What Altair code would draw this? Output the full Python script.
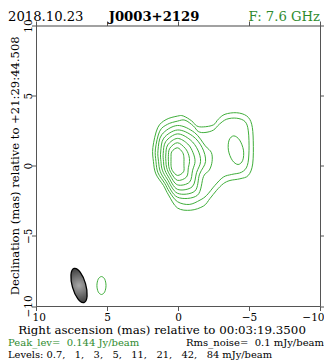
import altair as alt
import pandas as pd

# ---------------- header / footer values ----------------
obs_date = "2018.10.23"
source = "J0003+2129"
freq_ghz = 7.6
ra_ref = "00:03:19.3500"
dec_ref = "+21:29:44.508"
peak_jy = 0.144
rms_mjy = 0.1
levels = [0.7, 1, 3, 5, 11, 21, 42, 84]  # mJy/beam

ticks = [10, 5, 0, -5, -10]

# ---------------- contour vertices (relative RA, Dec in mas) ----------------
# level 0.7 (encloses both components)
L1_x = [0.04, 0.84, 1.43, 1.77, 1.73, 1.56, 1.02, 0.67, 0.04, -0.90, -1.80,
        -2.25, -2.72, -3.19, -3.66, -4.36, -4.95, -5.26, -5.30, -5.19, -4.84,
        -4.13, -3.31, -2.84, -2.49, -1.78, -1.32, -0.96, -0.37]
L1_y = [3.54, 3.29, 2.71, 1.30, 0.30, -0.58, -1.41, -2.08, -3.01, -3.17, -2.87,
        -2.34, -1.75, -1.28, -1.05, -0.93, -0.69, 0.13, 1.78, 2.96, 3.55,
        3.78, 3.67, 3.32, 2.91, 2.77, 2.84, 3.20, 3.55]
# level 1 (encloses both components)
L2_x = [0.04, 0.75, 1.29, 1.59, 1.55, 1.41, 0.93, 0.61, 0.04, -0.79, -1.55,
        -2.02, -2.60, -3.19, -3.78, -4.48, -4.88, -5.00, -4.95, -4.72, -4.13,
        -3.43, -2.91, -2.49, -1.90, -1.43, -1.08, -0.49]
L2_y = [3.18, 2.95, 2.46, 1.20, 0.30, -0.50, -1.26, -1.85, -2.56, -2.76, -2.45,
        -2.11, -1.40, -0.81, -0.62, -0.46, 0.01, 1.07, 2.49, 3.15, 3.39,
        3.32, 2.96, 2.54, 2.37, 2.44, 2.84, 3.25]
# level 3, main component
L3_x = [-2.40, -2.35, -1.92, -1.16, 0.04, 1.14, 1.41, 1.37, 1.25, 0.85, 0.04, -1.36, -1.80, -2.21]
L3_y = [0.30, 0.94, 1.42, 2.37, 2.87, 2.22, 1.09, 0.30, -0.41, -1.11, -2.24, -2.11, -0.76, -0.30]
# level 3, secondary component
S3_x = [-4.61, -4.34, -3.93, -3.60, -3.55, -3.82, -4.23, -4.56]
S3_y = [1.11, 1.83, 2.13, 1.83, 1.11, 0.39, 0.09, 0.39]
# level 5
L4_x = [-1.94, -1.70, -1.02, 0.04, 1.00, 1.22, 1.20, 1.10, 0.76, 0.04, -1.18, -1.52]
L4_y = [0.30, 1.30, 2.13, 2.55, 1.97, 0.98, 0.30, -0.32, -0.95, -1.96, -1.81, -0.60]
# level 11
L5_x = [-1.59, -1.40, -0.86, 0.04, 0.86, 1.04, 1.02, 0.95, 0.67, 0.04, -1.00, -1.31]
L5_y = [0.30, 1.12, 1.85, 2.27, 1.73, 0.88, 0.30, -0.23, -0.80, -1.68, -1.50, -0.48]
# level 21
L6_x = [-1.20, -1.06, -0.69, 0.04, 0.72, 0.86, 0.85, 0.80, 0.58, 0.04, -0.81, -1.03]
L6_y = [0.30, 0.93, 1.55, 1.95, 1.49, 0.77, 0.30, -0.14, -0.65, -1.36, -1.17, -0.32]
# level 42
L7_x = [-0.81, -0.76, -0.51, 0.04, 0.58, 0.68, 0.67, 0.65, 0.49, 0.04, -0.60, -0.73]
L7_y = [0.30, 0.75, 1.24, 1.64, 1.24, 0.67, 0.30, -0.06, -0.50, -1.04, -0.80, -0.14]
# level 84
L8_x = [-0.42, -0.42, -0.33, 0.035, 0.44, 0.49, 0.49, 0.49, 0.40, 0.035, -0.39, -0.42]
L8_y = [0.30, 0.56, 0.94, 1.28, 1.00, 0.56, 0.30, 0.03, -0.34, -0.69, -0.43, 0.03]
# isolated level 0.7 noise island
N1_x = [5.07, 5.16, 5.39, 5.62, 5.71, 5.62, 5.39, 5.16]
N1_y = [-8.54, -8.09, -7.90, -8.09, -8.54, -8.99, -9.18, -8.99]

# restoring beam
beam_x = [6.97]
beam_y = [-8.54]
beam_major = 2.5   # mas
beam_minor = 0.95  # mas
beam_pa = 16       # deg, east of north

# ---------------- build tables ----------------
contours = [("L1", L1_x, L1_y), ("L2", L2_x, L2_y), ("L3", L3_x, L3_y),
            ("S3", S3_x, S3_y), ("L4", L4_x, L4_y), ("L5", L5_x, L5_y),
            ("L6", L6_x, L6_y), ("L7", L7_x, L7_y), ("L8", L8_x, L8_y),
            ("N1", N1_x, N1_y)]
rows = []
for cid, xs_, ys_ in contours:
    for i, (xv, yv) in enumerate(zip(xs_, ys_)):
        rows.append({"cid": cid, "idx": i, "x": xv, "y": yv})
cdf = pd.DataFrame(rows)
bdf = pd.DataFrame({"x": beam_x, "y": beam_y})

GREEN_LINE = "#3fae3a"
GREEN_TEXT = "#2e8b2e"
AXIS_COL = "#555555"
FONT = "DejaVu Serif"

W, H = 284, 280.5
xscale = alt.Scale(domain=[10, -10], nice=False, zero=False)
yscale = alt.Scale(domain=[-10, 10], nice=False, zero=False)

common = dict(values=ticks, tickSize=4.5, tickColor=AXIS_COL, domainColor=AXIS_COL,
              tickWidth=1, domainWidth=1, grid=False, title=None,
              labelFont=FONT, labelFontSize=10.5, labelColor="black")

contour_layer = alt.Chart(cdf).mark_line(
    interpolate="cardinal-closed", color=GREEN_LINE, strokeWidth=1
).encode(
    x=alt.X("x:Q", scale=xscale,
            axis=alt.Axis(orient="bottom", labelBaseline="alphabetic", labelPadding=10,
                          labelFlush=True, labelFlushOffset=4, **common)),
    y=alt.Y("y:Q", scale=yscale,
            axis=alt.Axis(orient="left", labelAngle=270, labelAlign="center",
                          labelBaseline="alphabetic", labelPadding=0,
                          labelFlush=False, **common)),
    detail="cid:N",
    order="idx:Q",
)

frame_layer = alt.Chart(bdf).mark_point(opacity=0).encode(
    x=alt.X("x:Q", scale=xscale, axis=alt.Axis(orient="top", labels=False, **common)),
    y=alt.Y("y:Q", scale=yscale, axis=alt.Axis(orient="right", labels=False, **common)),
)

# beam ellipse as a custom symbol
k = beam_minor / beam_major
c = 0.5523 * k
beam_path = (f"M0,-1C{c:.3f},-1 {k:.3f},-0.552 {k:.3f},0C{k:.3f},0.552 {c:.3f},1 0,1"
             f"C{-c:.3f},1 {-k:.3f},0.552 {-k:.3f},0C{-k:.3f},-0.552 {-c:.3f},-1 0,-1Z")
beam_px = beam_major * W / 20.0
beam_layer = alt.Chart(bdf).mark_point(
    shape=beam_path, size=beam_px ** 2, angle=360 - beam_pa, filled=True, opacity=1,
    fill=alt.RadialGradient(gradient="radial", stops=[
        alt.GradientStop(offset=0, color="#a8a8a8"),
        alt.GradientStop(offset=1, color="#3c3c3c")]),
    stroke="black", strokeWidth=1.3,
).encode(
    x=alt.X("x:Q", scale=xscale, axis=None),
    y=alt.Y("y:Q", scale=yscale, axis=None),
)


def label(text, x, y, size, color="black", weight="normal", align="left", angle=0):
    return alt.Chart(alt.Data(values=[{"t": text}])).mark_text(
        font=FONT, fontSize=size, color=color, fontWeight=weight, align=align,
        baseline="alphabetic", angle=angle,
    ).encode(text="t:N", x=alt.value(x), y=alt.value(y))


NB = "\u00a0"
lev_txt = "Levels: " + ("," + NB * 3).join(f"{v:g}" for v in levels) + " mJy/beam"
texts = [
    label(obs_date, -28, -5, 13.2),
    label(source, 118, -5, 13.2, weight="bold", align="center"),
    label(f"F: {freq_ghz:g} GHz", 284, -5, 13.2, color=GREEN_TEXT, align="right"),
    label(f"Declination (mas) relative to {dec_ref}", -17, 140.25, 11.6,
          align="center", angle=270),
    label(f"Right ascension (mas) relative to {ra_ref}", 126, 308.5, 11.8, align="center"),
    label(f"Peak_lev={NB}{NB}{peak_jy:g} Jy/beam", -28, 320.6, 10, color=GREEN_TEXT),
    label(f"Rms_noise={NB}{NB}{rms_mjy:g} mJy/beam", 288, 320.6, 10, align="right"),
    label(lev_txt, -28, 332.2, 9.9),
]

chart = alt.layer(contour_layer, frame_layer, beam_layer, *texts).resolve_axis(
    x="independent", y="independent"
).properties(
    width=W, height=H,
    padding={"left": 28, "top": 17.5, "right": 4, "bottom": 54},
    autosize=alt.AutoSizeParams(type="none"),
).configure_view(stroke="transparent").configure(background="white")

chart.save("out.html", embed_options={"renderer": "svg", "actions": False})
